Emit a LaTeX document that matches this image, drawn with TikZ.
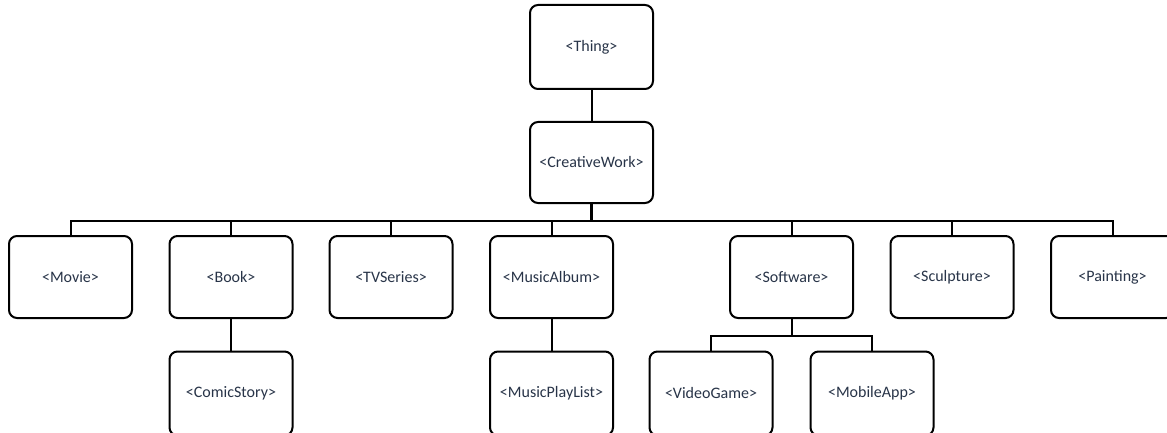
\documentclass[tikz,border=0pt]{standalone}
\usepackage{fontspec}
\setmainfont{Carlito}
\usetikzlibrary{calc}
\definecolor{labeltext}{RGB}{40,52,72}
\tikzset{
  classbox/.style={draw=black, line width=2pt, rounded corners=8pt, fill=white,
    minimum width=123pt, minimum height=82pt, inner sep=0pt,
    text=labeltext, font=\fontsize{16}{19}\selectfont},
  link/.style={draw=black, line width=2pt},
}
\begin{document}
\begin{tikzpicture}[x=1pt,y=-1pt]
\useasboundingbox (0,0) rectangle (1167,433);

% top of the hierarchy
\node[classbox, minimum height=84pt] (thing) at (591.5,47) {<Thing>};
\node[classbox, minimum height=81pt] (cw) at (591.5,162.5) {<CreativeWork>};

% direct subtypes of CreativeWork
\node[classbox] (movie)     at (70.5,277)  {<Movie>};
\node[classbox] (book)      at (231,277)   {<Book>};
\node[classbox] (tvseries)  at (391,277)   {<TVSeries>};
\node[classbox] (album)     at (551.5,277) {<MusicAlbum>};
\node[classbox] (software)  at (791.5,277) {<Software>};
\node[classbox] (sculpture) at (952,277)   {<Sculpture>};
\node[classbox] (painting)  at (1112.5,277) {<Painting>};

% third level
\node[classbox, minimum height=84pt] (comic)    at (231,393.5)   {<ComicStory>};
\node[classbox, minimum height=84pt] (playlist) at (551.5,393.5) {<MusicPlayList>};
\node[classbox, minimum height=84pt] (game)     at (711,393.5)   {<VideoGame>};
\node[classbox, minimum height=84pt] (mobile)   at (872,393.5)   {<MobileApp>};

% connectors
\draw[link] (thing.south) -- (cw.south |- cw.north);
\draw[link, line width=3pt] (cw.south) -- ++(0,16.5) coordinate (bus);
\foreach \c in {movie,book,tvseries,album,software,sculpture,painting}
  \draw[link] (bus) -| (\c.north);
\draw[link] (book.south) -- (comic.north);
\draw[link] (album.south) -- (playlist.north);
\draw[link] (software.south) -- ++(0,16.5) coordinate (swbus);
\draw[link] (swbus) -| (game.north);
\draw[link] (swbus) -| (mobile.north);
\end{tikzpicture}
\end{document}
